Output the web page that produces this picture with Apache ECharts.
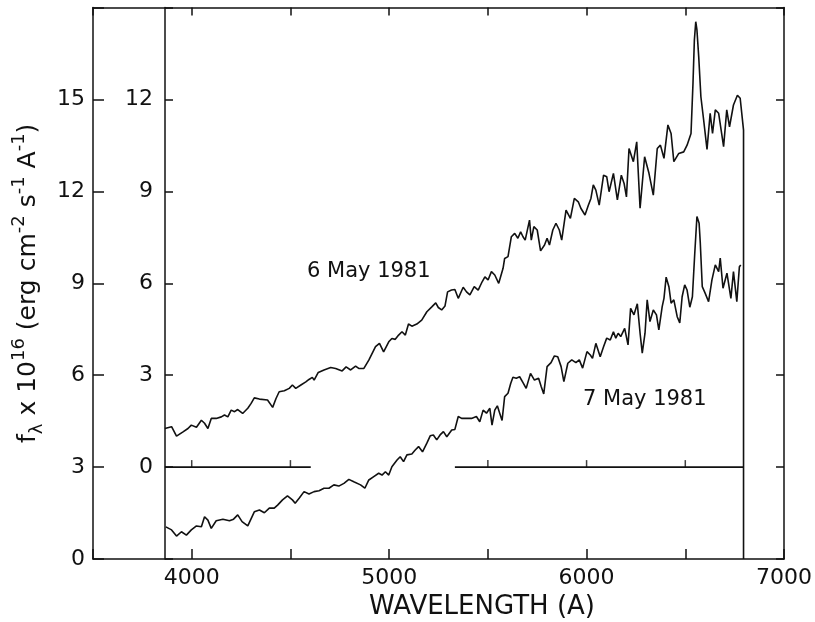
<!DOCTYPE html>
<html><head><meta charset="utf-8">
<script src="https://cdn.jsdelivr.net/npm/echarts@6/dist/echarts.min.js"></script>
<style>html,body{margin:0;padding:0;background:#fff}#c{width:815px;height:622px}</style>
</head><body><div id="c"></div>
<script>
// ---- data (wavelength in Angstrom, flux in 1e-16 erg cm^-2 s^-1 A^-1) ----
const xTickLabels = [4000, 5000, 6000, 7000];
const yOuterLabels = [0, 3, 6, 9, 12, 15];
const yInnerLabels = [0, 3, 6, 9, 12];
const zeroTickLambda = [4000, 4500, 5500, 6000, 6500];
const may6ZeroLeft = [[3864, 0], [4603, 0]];
const may6ZeroRight = [[5333, 0], [6795, 0]];
const label6 = '6 May 1981';
const label7 = '7 May 1981';

const may6 = [[3864,1.26],[3898,1.32],[3923,1.01],[3956,1.15],[3981,1.26],[3998,1.37],[4024,1.30],[4049,1.53],[4065,1.43],[4082,1.26],[4099,1.59],[4124,1.59],[4150,1.64],[4166,1.70],[4183,1.64],[4200,1.86],[4217,1.81],[4233,1.88],[4258,1.75],[4284,1.92],[4301,2.08],[4317,2.26],[4343,2.22],[4384,2.19],[4410,1.95],[4427,2.24],[4443,2.46],[4469,2.49],[4494,2.57],[4510,2.68],[4527,2.57],[4553,2.68],[4578,2.78],[4594,2.86],[4611,2.93],[4620,2.84],[4641,3.09],[4670,3.17],[4704,3.25],[4729,3.22],[4762,3.14],[4782,3.27],[4805,3.17],[4830,3.30],[4846,3.22],[4872,3.22],[4897,3.49],[4931,3.93],[4951,4.04],[4972,3.76],[4998,4.09],[5014,4.20],[5031,4.17],[5048,4.31],[5065,4.42],[5082,4.31],[5098,4.67],[5115,4.60],[5140,4.67],[5165,4.80],[5191,5.07],[5216,5.23],[5236,5.36],[5249,5.21],[5266,5.13],[5283,5.26],[5296,5.72],[5316,5.78],[5333,5.80],[5350,5.51],[5375,5.87],[5392,5.72],[5409,5.62],[5431,5.89],[5451,5.78],[5471,6.05],[5485,6.21],[5501,6.11],[5518,6.38],[5535,6.27],[5555,6.00],[5565,5.94],[5577,6.49],[5585,6.81],[5602,6.87],[5619,7.52],[5636,7.63],[5652,7.47],[5666,7.68],[5678,7.52],[5689,7.41],[5711,8.06],[5720,7.41],[5733,7.85],[5750,7.74],[5767,7.06],[5787,7.25],[5800,7.47],[5812,7.25],[5829,7.74],[5845,7.96],[5862,7.74],[5874,7.41],[5896,8.39],[5918,8.12],[5938,8.77],[5958,8.66],[5971,8.45],[5992,8.23],[6009,8.55],[6022,8.77],[6034,9.21],[6047,9.04],[6064,8.55],[6086,9.53],[6102,9.48],[6114,8.99],[6136,9.59],[6156,8.72],[6176,9.53],[6190,9.26],[6202,8.82],[6215,10.40],[6237,9.97],[6254,10.62],[6271,8.45],[6294,10.13],[6316,9.59],[6338,8.88],[6358,10.40],[6374,10.51],[6392,10.08],[6412,11.17],[6428,10.89],[6442,9.97],[6467,10.24],[6492,10.29],[6509,10.51],[6529,10.89],[6539,12.53],[6546,13.94],[6553,14.54],[6559,14.27],[6568,13.40],[6579,12.09],[6593,11.33],[6610,10.37],[6626,11.55],[6638,10.89],[6652,11.66],[6669,11.55],[6694,10.46],[6710,11.66],[6724,11.11],[6744,11.82],[6764,12.14],[6778,12.04],[6795,11.00],[6795,-3.00]];

const may7 = [[3869,1.05],[3898,0.95],[3923,0.75],[3948,0.89],[3973,0.78],[3998,0.95],[4024,1.08],[4049,1.05],[4065,1.38],[4082,1.27],[4099,1.00],[4124,1.25],[4158,1.30],[4191,1.25],[4212,1.30],[4233,1.44],[4255,1.22],[4284,1.08],[4317,1.54],[4343,1.60],[4368,1.51],[4393,1.66],[4418,1.66],[4435,1.76],[4460,1.93],[4485,2.06],[4510,1.93],[4524,1.82],[4544,1.98],[4569,2.20],[4594,2.12],[4620,2.20],[4645,2.23],[4670,2.31],[4695,2.31],[4720,2.42],[4745,2.38],[4771,2.47],[4796,2.60],[4821,2.52],[4855,2.42],[4877,2.31],[4897,2.58],[4922,2.69],[4947,2.80],[4964,2.74],[4981,2.85],[4998,2.74],[5014,3.01],[5040,3.23],[5056,3.34],[5073,3.18],[5090,3.40],[5115,3.43],[5132,3.56],[5149,3.67],[5169,3.50],[5191,3.78],[5208,4.02],[5224,4.05],[5241,3.89],[5258,4.05],[5275,4.16],[5292,3.99],[5317,4.21],[5333,4.23],[5350,4.65],[5367,4.59],[5392,4.59],[5417,4.59],[5442,4.65],[5459,4.48],[5476,4.86],[5493,4.76],[5510,4.92],[5521,4.37],[5535,4.86],[5548,5.00],[5560,4.76],[5572,4.52],[5585,5.30],[5602,5.41],[5616,5.74],[5627,5.93],[5644,5.90],[5661,5.95],[5678,5.76],[5694,5.57],[5716,6.06],[5736,5.84],[5757,5.90],[5770,5.63],[5783,5.39],[5800,6.28],[5820,6.41],[5837,6.63],[5854,6.60],[5871,6.28],[5885,5.79],[5905,6.39],[5925,6.50],[5946,6.41],[5963,6.50],[5980,6.23],[6002,6.77],[6019,6.66],[6030,6.55],[6047,7.04],[6069,6.60],[6086,6.93],[6102,7.21],[6120,7.15],[6136,7.42],[6148,7.21],[6160,7.37],[6173,7.26],[6193,7.53],[6210,6.99],[6223,8.18],[6240,7.97],[6257,8.33],[6271,7.37],[6282,6.72],[6296,7.37],[6307,8.46],[6321,7.75],[6338,8.13],[6354,7.97],[6366,7.48],[6383,8.24],[6392,8.51],[6403,9.20],[6417,8.89],[6428,8.35],[6442,8.46],[6459,7.91],[6472,7.71],[6484,8.56],[6497,8.95],[6509,8.78],[6523,8.22],[6536,8.56],[6548,9.98],[6559,11.18],[6570,10.96],[6576,10.31],[6586,8.89],[6601,8.67],[6618,8.40],[6635,9.11],[6652,9.60],[6669,9.38],[6677,9.82],[6691,8.84],[6711,9.33],[6731,8.51],[6744,9.38],[6761,8.40],[6774,9.54],[6781,9.60]];

// ---- chart ----
const FONT = 'DejaVu Sans';
const INK = '#111';
const axisLineStyle = { color: INK, width: 1.5 };
const chart = echarts.init(document.getElementById('c'), null, { renderer: 'canvas' });

const lineSeries = (name, data, yIdx) => ({
  name, type: 'line', data, xAxisIndex: 0, yAxisIndex: yIdx,
  showSymbol: false, symbol: 'none', smooth: false, animation: false,
  lineStyle: { color: INK, width: 1.6 }, silent: true
});

chart.setOption({
  backgroundColor: '#fff',
  animation: false,
  grid: { left: 93, right: 27.5, top: 7.6, bottom: 63 },
  xAxis: [
    { type: 'value', position: 'bottom', min: 3500, max: 7000, interval: 500,
      axisLine: { onZero: false, lineStyle: axisLineStyle },
      axisTick: { inside: true, length: 10, lineStyle: axisLineStyle },
      axisLabel: { formatter: v => xTickLabels.includes(v) ? String(v) : '', fontSize: 22, fontFamily: FONT, color: INK, margin: 8 },
      splitLine: { show: false } },
    { type: 'value', position: 'top', min: 3500, max: 7000, interval: 500,
      axisLine: { onZero: false, lineStyle: axisLineStyle },
      axisTick: { inside: true, length: 8, lineStyle: axisLineStyle },
      axisLabel: { show: false }, splitLine: { show: false } }
  ],
  yAxis: [
    { type: 'value', position: 'left', min: 0, max: 18, interval: 3,
      axisLine: { show: true, onZero: false, lineStyle: axisLineStyle },
      axisTick: { show: true, inside: true, length: 11, lineStyle: axisLineStyle },
      axisLabel: { formatter: v => yOuterLabels.includes(v) ? String(v) : '', fontSize: 22, fontFamily: FONT, color: INK, margin: 8 },
      splitLine: { show: false },
      name: '{t|f}{sub|λ}{t| x 10}{sup|16}{t| (erg cm}{sup|-2}{t| s}{sup|-1}{t| A}{sup|-1}{t|)}',
      nameLocation: 'middle', nameRotate: 90, nameGap: 40,
      nameTextStyle: { fontFamily: FONT, color: INK,
        rich: {
          t: { fontSize: 25, fontFamily: FONT, color: INK, lineHeight: 36, verticalAlign: 'middle' },
          sup: { fontSize: 18, fontFamily: FONT, color: INK, lineHeight: 18, verticalAlign: 'top' },
          sub: { fontSize: 18, fontFamily: FONT, color: INK, lineHeight: 18, verticalAlign: 'bottom' }
        } } },
    { type: 'value', position: 'left', offset: -72, min: -3, max: 15, interval: 3,
      axisLine: { show: true, onZero: false, lineStyle: axisLineStyle },
      axisTick: { show: true, inside: true, length: 8, lineStyle: axisLineStyle },
      axisLabel: { formatter: v => yInnerLabels.includes(v) ? String(v) : '', fontSize: 22, fontFamily: FONT, color: INK, margin: 12 },
      splitLine: { show: false } },
    { type: 'value', position: 'right', min: 0, max: 18, interval: 3,
      axisLine: { show: true, onZero: false, lineStyle: axisLineStyle },
      axisTick: { show: true, inside: true, length: 8, lineStyle: axisLineStyle },
      axisLabel: { show: false }, splitLine: { show: false } }
  ],
  series: [
    lineSeries('7 May 1981', may7, 0),
    lineSeries('6 May 1981', may6, 1),
    lineSeries('zeroL', may6ZeroLeft, 1),
    lineSeries('zeroR', may6ZeroRight, 1),
    { type: 'scatter', xAxisIndex: 0, yAxisIndex: 1, data: zeroTickLambda.map(l => [l, 0]),
      symbol: 'rect', symbolSize: [1.5, 7], symbolOffset: [0, -3.5],
      itemStyle: { color: INK }, silent: true, animation: false }
  ],
  graphic: [
    { type: 'text', left: 307, top: 261, style: { text: label6, fontSize: 21, fontFamily: FONT, fill: INK } },
    { type: 'text', left: 583, top: 389, style: { text: label7, fontSize: 21, fontFamily: FONT, fill: INK } },
    { type: 'text', left: 369, top: 594, style: { text: 'WAVELENGTH (A)', fontSize: 26, fontFamily: FONT, fill: INK } }
  ]
});
</script></body></html>
